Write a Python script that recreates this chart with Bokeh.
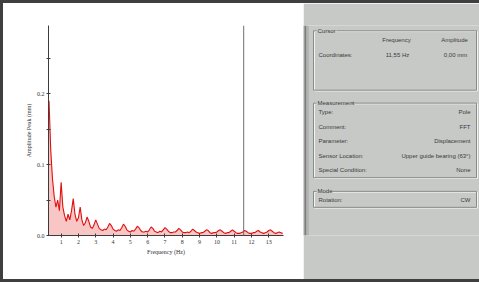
from bokeh.plotting import figure
from bokeh.models import Range1d, FixedTicker, Span, ColumnDataSource, Div
from bokeh.layouts import row, column
from bokeh.embed import file_html
from bokeh.resources import INLINE
from bokeh.core.properties import value

# ---------------- data ----------------
freq_hz = [
    0.3, 0.4, 0.5, 0.6, 0.7, 0.8, 0.9, 1.0, 1.1, 1.2, 1.3, 1.4, 1.5, 1.6, 1.7, 1.8, 1.9,
    2.0, 2.1, 2.2, 2.3, 2.4, 2.5, 2.6, 2.7, 2.8, 2.9, 3.0, 3.1, 3.2, 3.3, 3.4, 3.5, 3.6,
    3.7, 3.8, 3.9, 4.0, 4.1, 4.2, 4.3, 4.4, 4.5, 4.6, 4.7, 4.8, 4.9, 5.0, 5.1, 5.2, 5.3,
    5.4, 5.5, 5.6, 5.7, 5.8, 5.9, 6.0, 6.1, 6.2, 6.3, 6.4, 6.5, 6.6, 6.7, 6.8, 6.9, 7.0,
    7.1, 7.2, 7.3, 7.4, 7.5, 7.6, 7.7, 7.8, 7.9, 8.0, 8.1, 8.2, 8.3, 8.4, 8.5, 8.6, 8.7,
    8.8, 8.9, 9.0, 9.1, 9.2, 9.3, 9.4, 9.5, 9.6, 9.7, 9.8, 9.9, 10.0, 10.1, 10.2, 10.3,
    10.4, 10.5, 10.6, 10.7, 10.8, 10.9, 11.0, 11.1, 11.2, 11.3, 11.4, 11.5, 11.6, 11.7,
    11.8, 11.9, 12.0, 12.1, 12.2, 12.3, 12.4, 12.5, 12.6, 12.7, 12.8, 12.9, 13.0, 13.1,
    13.2, 13.3, 13.4, 13.5, 13.6, 13.7, 13.8,
]
amp_mm = [
    0.190, 0.120, 0.080, 0.055, 0.040, 0.050, 0.035, 0.075, 0.040, 0.028, 0.020, 0.030,
    0.022, 0.035, 0.052, 0.030, 0.020, 0.025, 0.040, 0.022, 0.014, 0.018, 0.026, 0.020,
    0.012, 0.010, 0.015, 0.022, 0.016, 0.010, 0.008, 0.007, 0.009, 0.008, 0.012, 0.017,
    0.014, 0.009, 0.007, 0.006, 0.008, 0.007, 0.011, 0.016, 0.013, 0.008, 0.006, 0.005,
    0.007, 0.006, 0.009, 0.013, 0.011, 0.007, 0.005, 0.005, 0.006, 0.005, 0.008, 0.012,
    0.010, 0.006, 0.005, 0.004, 0.006, 0.005, 0.008, 0.011, 0.009, 0.006, 0.004, 0.004,
    0.005, 0.005, 0.007, 0.010, 0.008, 0.005, 0.004, 0.004, 0.005, 0.004, 0.006, 0.009,
    0.007, 0.005, 0.004, 0.003, 0.004, 0.004, 0.006, 0.008, 0.007, 0.004, 0.003, 0.004,
    0.004, 0.005, 0.007, 0.008, 0.006, 0.004, 0.003, 0.004, 0.004, 0.006, 0.008, 0.006,
    0.004, 0.003, 0.003, 0.004, 0.005, 0.007, 0.006, 0.004, 0.003, 0.003, 0.004, 0.004,
    0.006, 0.007, 0.005, 0.004, 0.003, 0.004, 0.005, 0.007, 0.008, 0.006, 0.004, 0.003,
    0.004, 0.005, 0.004, 0.003,
]
x_tick_values = [1, 2, 3, 4, 5, 6, 7, 8, 9, 10, 11, 12, 13]
y_tick_values = [0.0, 0.1, 0.2]
y_minor_values = [0.05, 0.15, 0.25]
cursor_freq_hz = 11.55
cursor_amp_mm = 0.00

cursor_headers = ["Frequency", "Amplitude"]
meas_labels = ["Type:", "Comment:", "Parameter:", "Sensor Location:", "Special Condition:"]
meas_values = ["Pole", "FFT", "Displacement", "Upper guide bearing (63°)", "None"]
mode_labels = ["Rotation:"]
mode_values = ["CW"]

FRAME = "#3f3f3f"


def strip(w, h, color):
    return Div(width=w, height=h, text="",
               styles={"background-color": color, "width": f"{w}px", "height": f"{h}px",
                       "margin": "0", "padding": "0"})


# ---------------- spectrum figure ----------------
AX = "#3c3c3c"

p = figure(width=300, height=276, x_range=Range1d(0.27, 13.85), y_range=Range1d(0, 0.296),
           output_backend="svg", toolbar_location=None,
           min_border_left=45, min_border_right=20, min_border_top=22, min_border_bottom=44)
p.title.visible = False
p.background_fill_color = "white"
p.border_fill_color = "white"
p.outline_line_color = None
p.grid.visible = False

src = ColumnDataSource(dict(f=freq_hz, a=amp_mm))
p.varea(x="f", y1=0, y2="a", source=src, fill_color="#f07070", fill_alpha=0.4)
p.line(x="f", y="a", source=src, line_color="#e01010", line_width=1.1)

p.add_layout(Span(location=cursor_freq_hz, dimension="height", line_color="#6e6e6e", line_width=1))

for ax in (p.xaxis[0], p.yaxis[0]):
    ax.axis_line_color = AX
    ax.major_tick_line_color = AX
    ax.minor_tick_line_color = AX
    ax.major_tick_in = 2
    ax.major_tick_out = 2
    ax.major_label_text_font = "Liberation Serif"
    ax.major_label_text_font_size = "6px"
    ax.major_label_text_color = "#333333"
    ax.axis_label_text_font = "Liberation Serif"
    ax.axis_label_text_font_size = "6px"
    ax.axis_label_text_font_style = "normal"
    ax.axis_label_text_color = "#333333"
    ax.major_label_standoff = 2
    ax.axis_label_standoff = 2

p.xaxis.ticker = FixedTicker(ticks=x_tick_values)
p.xaxis.minor_tick_line_color = None
p.yaxis.ticker = FixedTicker(ticks=y_tick_values, minor_ticks=y_minor_values)
p.yaxis.minor_tick_in = 2
p.yaxis.minor_tick_out = 2
p.yaxis.major_label_overrides = {v: f"{v:.1f}" for v in y_tick_values}
p.xaxis.axis_label = "Frequency (Hz)"
p.yaxis.axis_label = "Amplitude Peak (mm)"

# ---------------- right info panel ----------------
PANEL = "#c7c9c7"
TXT = "#3a3a3a"
SANS = value("Liberation Sans")

q = figure(width=176, height=276, x_range=Range1d(303, 479), y_range=Range1d(279, 3),
           output_backend="svg", toolbar_location=None, min_border=0)
q.title.visible = False
q.axis.visible = False
q.grid.visible = False
q.outline_line_color = None
q.background_fill_color = PANEL
q.border_fill_color = PANEL

# splitter between plot and panel
q.quad(left=[303, 304.5, 306], right=[304.5, 306, 308.5], top=[3, 3, 3], bottom=[279, 279, 279],
       fill_color=["#9c9c9c", "#7c7c7c", "#b4b4b4"], line_color=None)


def group_box(x0, x1, y0, y1, title, title_w):
    # etched group box
    q.quad(left=[x0 + 1], right=[x1 + 1], top=[y0 + 1], bottom=[y1 + 1],
           fill_color=None, line_color="#f2f2f2", line_width=1)
    q.quad(left=[x0], right=[x1], top=[y0], bottom=[y1],
           fill_color=None, line_color="#8a8a8a", line_width=1)
    q.quad(left=[x0 + 3], right=[x0 + 4 + title_w], top=[y0 - 3], bottom=[y0 + 3],
           fill_color=PANEL, line_color=None)
    q.text(x=[x0 + 4], y=[y0], text=[title], text_font=SANS, text_font_size="6px",
           text_color=TXT, text_baseline="middle")


group_box(313, 476, 10, 88, "Cursor", 19)
group_box(313, 476, 105, 203, "Measurement", 34)
group_box(313, 476, 221, 242, "Mode", 15)

# cursor group
q.text(x=[396, 454], y=[22, 22], text=cursor_headers, text_font=SANS, text_font_size="6px",
       text_color=TXT, text_align="center", text_baseline="middle")
q.text(x=[318], y=[42], text=["Coordinates:"], text_font=SANS, text_font_size="6px",
       text_color=TXT, text_baseline="middle")
freq_txt = f"{cursor_freq_hz:.2f}".replace(".", ",") + " Hz"
amp_txt = f"{cursor_amp_mm:.2f}".replace(".", ",") + " mm"
q.text(x=[397, 455], y=[42, 42], text=[freq_txt, amp_txt], text_font=SANS, text_font_size="6px",
       text_color=TXT, text_align="center", text_baseline="middle")

# measurement group
meas_y = [117, 136, 155, 174, 193]
q.text(x=[318] * len(meas_labels), y=meas_y, text=meas_labels, text_font=SANS,
       text_font_size="6px", text_color=TXT, text_baseline="middle")
q.text(x=[470] * len(meas_values), y=meas_y, text=meas_values, text_font=SANS,
       text_font_size="6px", text_color=TXT, text_align="right", text_baseline="middle")

# mode group
q.text(x=[318], y=[232], text=mode_labels, text_font=SANS, text_font_size="6px",
       text_color=TXT, text_baseline="middle")
q.text(x=[470], y=[232], text=mode_values, text_font=SANS, text_font_size="6px",
       text_color=TXT, text_align="right", text_baseline="middle")

top = strip(479, 3, FRAME)
bottom = strip(479, 3, FRAME)
left = strip(3, 276, FRAME)

layout = column(top, row(left, p, q, spacing=0), bottom, spacing=0)
open("out.html", "w").write(file_html(layout, INLINE))
